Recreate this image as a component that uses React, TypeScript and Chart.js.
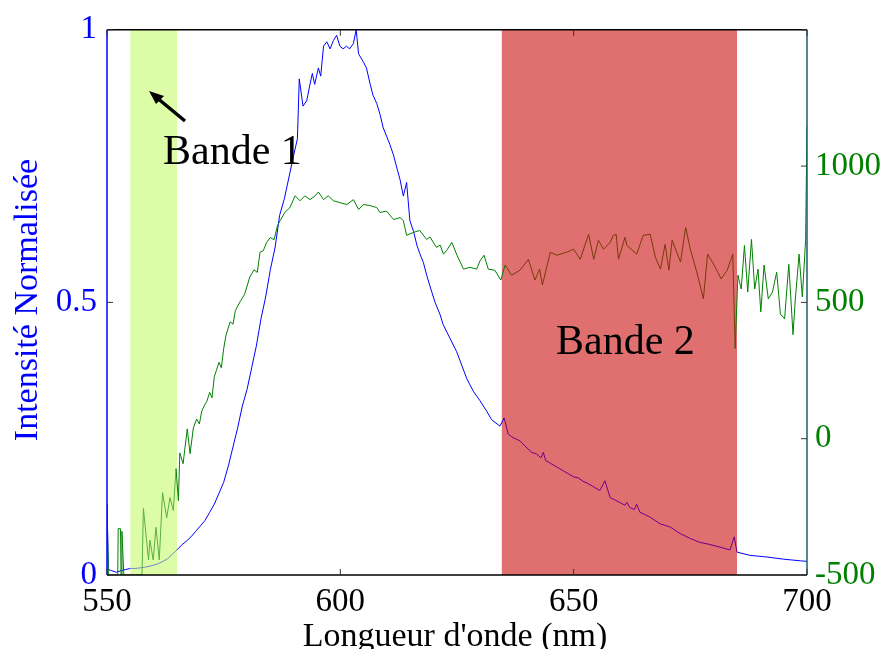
import React, { useEffect, useRef } from "react";
import { Chart, registerables } from "chart.js";

Chart.register(...registerables);

const xTicks = [550, 600, 650, 700];
const leftTicks = [0, 0.5, 1];
const rightTicks = [-500, 0, 500, 1000, 1500];
const band1 = [555, 565];
const band2 = [634.6, 685];

const blueX = [550, 550.3, 551, 552, 553, 554, 555, 556, 557, 558, 559, 560, 561, 562, 563, 564, 565, 566, 567, 568, 569, 570, 571, 572, 573, 574, 575, 576, 577, 578, 579, 580, 581, 582, 583, 584, 585, 586, 587, 588, 589, 590, 590.8, 591.2, 592, 592.8, 593.5, 594, 594.5, 595.3, 595.8, 596.4, 597.1, 597.8, 598.5, 599.2, 599.9, 600.6, 601.3, 602, 602.8, 603.4, 603.9, 605, 605.6, 606.4, 607, 607.8, 608.5, 609.2, 609.9, 610.6, 611.4, 612, 612.8, 613.5, 614.2, 614.9, 615.7, 616.4, 617, 617.8, 618.5, 619.2, 620.3, 621.4, 622, 623.5, 624.9, 626, 627.1, 628.5, 629.9, 631.4, 632.4, 634.2, 635.1, 636, 637, 638.5, 640, 641, 642, 643, 643.5, 644, 645, 646, 647, 648, 649, 650, 651, 652, 653, 654, 655, 655.6, 656.7, 657.8, 659, 659.9, 661, 661.4, 662, 663, 663.5, 664.2, 665, 666.4, 668.5, 670.7, 672.8, 675, 677, 679.2, 681.4, 683.5, 684.4, 685, 687.8, 691.4, 695, 698.6, 700];
const blueY = [0.13, 0.01, 0.008, 0.005, 0.008, 0.01, 0.012, 0.012, 0.013, 0.014, 0.016, 0.018, 0.021, 0.025, 0.03, 0.038, 0.046, 0.055, 0.062, 0.07, 0.08, 0.09, 0.1, 0.115, 0.13, 0.15, 0.17, 0.2, 0.235, 0.27, 0.31, 0.34, 0.38, 0.42, 0.47, 0.51, 0.56, 0.6, 0.66, 0.69, 0.73, 0.77, 0.8, 0.91, 0.86, 0.87, 0.9, 0.92, 0.9, 0.93, 0.915, 0.97, 0.978, 0.965, 0.98, 0.99, 0.97, 0.965, 0.97, 0.965, 0.975, 1.0, 0.956, 0.94, 0.93, 0.9, 0.88, 0.865, 0.845, 0.82, 0.805, 0.79, 0.77, 0.75, 0.725, 0.695, 0.72, 0.65, 0.63, 0.605, 0.59, 0.573, 0.55, 0.53, 0.5, 0.477, 0.46, 0.434, 0.41, 0.385, 0.36, 0.337, 0.32, 0.3, 0.285, 0.273, 0.288, 0.258, 0.252, 0.246, 0.233, 0.225, 0.222, 0.215, 0.225, 0.21, 0.205, 0.2, 0.195, 0.19, 0.185, 0.18, 0.178, 0.172, 0.168, 0.163, 0.158, 0.155, 0.173, 0.142, 0.137, 0.133, 0.128, 0.133, 0.124, 0.12, 0.13, 0.115, 0.112, 0.106, 0.094, 0.088, 0.076, 0.067, 0.06, 0.056, 0.051, 0.046, 0.07, 0.042, 0.036, 0.033, 0.029, 0.026, 0.025];

const greenX = [550, 550.3, 551, 552.3, 552.4, 552.9, 553, 553.2, 553.6, 554, 557.5, 557.8, 558.9, 559.2, 559.9, 560.5, 561.2, 561.9, 562.8, 563.5, 564.2, 564.8, 565.3, 565.6, 566.3, 567.2, 567.8, 568.5, 569.2, 569.8, 570.3, 571, 571.4, 572, 572.5, 573, 574, 574.5, 575, 575.5, 576.4, 577, 577.5, 578.5, 579.5, 580.6, 581.5, 582.2, 582.8, 583.5, 584.2, 585, 585.8, 586.5, 587.1, 588.1, 589.2, 590.3, 591.4, 592.4, 593.5, 594.6, 595.3, 596.4, 597.4, 598.5, 599.9, 601.4, 602.8, 603.9, 605, 606.4, 607.8, 608.5, 609.9, 611.4, 612.8, 613.5, 614.2, 615.7, 617, 618.5, 619.2, 620.6, 621.4, 622.1, 622.8, 623.9, 625, 626.4, 627.8, 629.2, 630, 630.8, 631.7, 633.1, 634.4, 635.3, 636.7, 638.5, 640.3, 641.7, 642.7, 643.3, 645, 646.4, 648.5, 650, 651.4, 653.2, 654.3, 655.3, 656.4, 657.8, 658.5, 659.1, 659.6, 661, 661.4, 663.5, 664.9, 666.4, 667.5, 668.6, 669.6, 670.4, 671.1, 672.9, 674, 675, 676.5, 677.8, 678.7, 680.1, 681.6, 682.9, 684.1, 684.6, 685.2, 685.9, 686.6, 687.3, 688.1, 688.8, 689.5, 690.1, 690.8, 691.7, 692.6, 693.5, 694.3, 695.2, 696.1, 697, 697.5, 698.3, 699, 699.7, 700];
const greenY = [-240, -500, -500, -500, -330, -330, -500, -340, -500, -500, -500, -256, -445, -372, -445, -325, -445, -198, -290, -216, -263, -110, -227, -52, -92, 36, -55, 39, 72, 54, 101, 126, 137, 170, 150, 228, 280, 260, 330, 380, 429, 420, 470, 502, 530, 593, 620, 610, 684, 690, 720, 738, 730, 780, 800, 830, 848, 891, 873, 891, 877, 891, 905, 877, 891, 873, 866, 859, 877, 841, 859, 855, 848, 830, 835, 804, 811, 800, 746, 757, 764, 731, 740, 702, 710, 677, 691, 720, 673, 622, 629, 622, 655, 673, 622, 618, 582, 637, 600, 618, 658, 582, 622, 564, 684, 673, 684, 695, 658, 750, 658, 728, 695, 720, 746, 750, 658, 739, 709, 677, 746, 750, 666, 622, 713, 618, 728, 648, 775, 695, 604, 513, 677, 637, 586, 618, 677, 331, 600, 549, 709, 538, 731, 549, 622, 465, 637, 513, 538, 611, 458, 440, 640, 382, 513, 677, 520, 728, 1150];

const FONT = "'Liberation Serif', 'Times New Roman', serif";

function inBand(x: number, b: number[]) {
  return x >= b[0] && x <= b[1];
}

export default function App() {
  const ref = useRef<HTMLCanvasElement | null>(null);
  useEffect(() => {
    if (!ref.current) return;
    const decor = {
      id: "decor",
      beforeDatasetsDraw(chart: any) {
        const { ctx, chartArea: a, scales } = chart;
        const x = scales.x;
        ctx.save();
        ctx.fillStyle = "#dcfca8";
        const b1l = x.getPixelForValue(band1[0]);
        const b1r = x.getPixelForValue(band1[1]);
        ctx.fillRect(b1l, a.top, b1r - b1l, a.bottom - a.top);
        ctx.fillStyle = "#e07070";
        const b2l = x.getPixelForValue(band2[0]);
        const b2r = x.getPixelForValue(band2[1]);
        ctx.fillRect(b2l, a.top, b2r - b2l, a.bottom - a.top);
        ctx.restore();
      },
      afterDraw(chart: any) {
        const { ctx, chartArea: a, scales } = chart;
        ctx.save();
        ctx.strokeStyle = "#000";
        ctx.lineWidth = 1.5;
        ctx.beginPath();
        ctx.moveTo(a.left, a.top);
        ctx.lineTo(a.right, a.top);
        ctx.moveTo(a.left, a.bottom);
        ctx.lineTo(a.right, a.bottom);
        ctx.stroke();
        ctx.strokeStyle = "#0000ff";
        ctx.beginPath();
        ctx.moveTo(a.left, a.top);
        ctx.lineTo(a.left, a.bottom);
        ctx.stroke();
        ctx.strokeStyle = "#1b5e6e";
        ctx.beginPath();
        ctx.moveTo(a.right, a.top);
        ctx.lineTo(a.right, a.bottom);
        ctx.stroke();
        ctx.lineWidth = 1;
        ctx.strokeStyle = "#333";
        ctx.beginPath();
        xTicks.forEach((v) => {
          const px = scales.x.getPixelForValue(v);
          ctx.moveTo(px, a.bottom);
          ctx.lineTo(px, a.bottom - 6);
          ctx.moveTo(px, a.top);
          ctx.lineTo(px, a.top + 6);
        });
        leftTicks.forEach((v) => {
          const py = scales.y.getPixelForValue(v);
          ctx.moveTo(a.left, py);
          ctx.lineTo(a.left + 6, py);
        });
        rightTicks.forEach((v) => {
          const py = scales.y1.getPixelForValue(v);
          ctx.moveTo(a.right, py);
          ctx.lineTo(a.right - 6, py);
        });
        ctx.stroke();
        ctx.fillStyle = "#000";
        ctx.font = `42px ${FONT}`;
        ctx.textBaseline = "alphabetic";
        ctx.textAlign = "left";
        ctx.fillText("Bande 1", 163, 164);
        ctx.fillText("Bande 2", 556, 354);
        ctx.strokeStyle = "#000";
        ctx.lineWidth = 3.5;
        ctx.beginPath();
        ctx.moveTo(185, 121);
        ctx.lineTo(156, 97);
        ctx.stroke();
        ctx.beginPath();
        ctx.moveTo(149, 91);
        ctx.lineTo(164, 96);
        ctx.lineTo(156, 104);
        ctx.closePath();
        ctx.fill();
        ctx.font = `34px ${FONT}`;
        ctx.textAlign = "center";
        ctx.fillText("Longueur d'onde (nm)", 455, 646);
        ctx.save();
        ctx.translate(37, 300);
        ctx.rotate(-Math.PI / 2);
        ctx.fillStyle = "#0000ff";
        ctx.fillText("Intensité Normalisée", 0, 0);
        ctx.restore();
        ctx.restore();
      },
    };

    const chart = new Chart(ref.current, {
      type: "line",
      data: {
        datasets: [
          {
            label: "Intensité",
            data: greenX.map((x, i) => ({ x, y: greenY[i] })),
            yAxisID: "y1",
            borderColor: "#008000",
            borderWidth: 1,
            pointRadius: 0,
            tension: 0,
            segment: {
              borderColor: (c: any) =>
                inBand(c.p0.parsed.x, band2) && inBand(c.p1.parsed.x, band2)
                  ? "#7a3a08"
                  : inBand(c.p0.parsed.x, band1) && inBand(c.p1.parsed.x, band1)
                  ? "#5cb040"
                  : undefined,
            },
          },
          {
            label: "Normalisée",
            data: blueX.map((x, i) => ({ x, y: blueY[i] })),
            yAxisID: "y",
            borderColor: "#0000ff",
            borderWidth: 1,
            pointRadius: 0,
            tension: 0,
            segment: {
              borderColor: (c: any) =>
                inBand(c.p0.parsed.x, band2) && inBand(c.p1.parsed.x, band2)
                  ? "#70008a"
                  : inBand(c.p0.parsed.x, band1) && inBand(c.p1.parsed.x, band1)
                  ? "#7a88c8"
                  : undefined,
            },
          },
        ],
      },
      options: {
        responsive: false,
        animation: false,
        devicePixelRatio: 1,
        layout: { padding: { top: 26, left: 0, right: 0, bottom: 0 } },
        plugins: { legend: { display: false }, tooltip: { enabled: false } },
        scales: {
          x: {
            type: "linear",
            min: 550,
            max: 700,
            afterBuildTicks: (s: any) => {
              s.ticks = xTicks.map((v) => ({ value: v }));
            },
            afterFit: (s: any) => {
              s.height = 74;
            },
            grid: { display: false, drawTicks: false },
            border: { display: false },
            ticks: {
              color: "#000",
              padding: 8,
              maxRotation: 0,
              font: { family: FONT, size: 33 },
            },
          },
          y: {
            position: "left",
            min: 0,
            max: 1,
            afterBuildTicks: (s: any) => {
              s.ticks = leftTicks.map((v) => ({ value: v }));
            },
            afterFit: (s: any) => {
              s.width = 107;
            },
            grid: { display: false, drawTicks: false },
            border: { display: false },
            ticks: {
              color: "#0000ff",
              padding: 10,
              font: { family: FONT, size: 33 },
              callback: (v: any) => String(v),
            },
          },
          y1: {
            position: "right",
            min: -500,
            max: 1500,
            afterBuildTicks: (s: any) => {
              s.ticks = rightTicks.map((v) => ({ value: v }));
            },
            afterFit: (s: any) => {
              s.width = 78;
            },
            grid: { display: false, drawTicks: false },
            border: { display: false },
            ticks: {
              color: "#008000",
              padding: 8,
              font: { family: FONT, size: 33 },
              callback: (v: any) => (v === 1500 ? "" : String(v)),
            },
          },
        },
      },
      plugins: [decor],
    });
    return () => chart.destroy();
  }, []);

  return (
    <div style={{ position: "fixed", left: 0, top: 0, width: 885, height: 649, background: "#fff" }}>
      <canvas ref={ref} width={885} height={649} style={{ display: "block", width: 885, height: 649 }} />
    </div>
  );
}
